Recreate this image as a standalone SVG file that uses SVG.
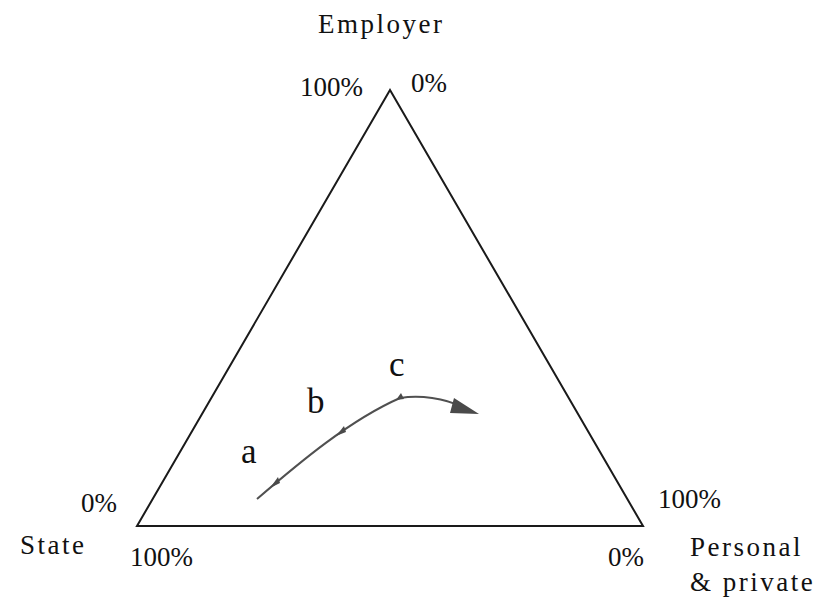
<svg xmlns="http://www.w3.org/2000/svg" width="814" height="599" viewBox="0 0 814 599">
<style>
.t{fill:#111;font-size:27px}
.w{letter-spacing:2.5px}
.lbl{font-size:35px}
.tri{fill:none;stroke:#1a1a1a;stroke-width:2;stroke-linejoin:miter}
.path{fill:none;stroke:#505050;stroke-width:2}
.head{fill:#4a4a4a}
</style>
<rect width="814" height="599" fill="#fff"/>
<g id="triangle">
<polygon class="tri" points="390,90 137,526 643,526"/>
</g>
<g id="labels" font-family="Liberation Serif, Times New Roman, serif">
<text class="t w" x="318" y="33">Employer</text>
<text class="t" x="300" y="96">100%</text>
<text class="t" x="411" y="92">0%</text>
<text class="t" x="81" y="512">0%</text>
<text class="t w" x="20" y="554">State</text>
<text class="t" x="130" y="566">100%</text>
<text class="t" x="658" y="508">100%</text>
<text class="t" x="608" y="566">0%</text>
<text class="t w" x="690" y="556">Personal</text>
<text class="t w" x="690" y="591">&amp; private</text>
</g>
<g id="points" font-family="Liberation Serif, Times New Roman, serif">
<text class="t lbl" x="241" y="463">a</text>
<text class="t lbl" x="307" y="413">b</text>
<text class="t lbl" x="389" y="376">c</text>
</g>
<g id="connectors">
<path class="path" d="M257,499 C300,462 350,420 400,398 C420,395 445,398 462,407"/>
<polygon class="head" points="270,488 278,477 280,483"/>
<polygon class="head" points="336,436 344,426 346,432"/>
<polygon class="head" points="396,400 401,393 404,399"/>
<polygon class="head" points="479,414 454,398 450,413"/>
</g>
</svg>
